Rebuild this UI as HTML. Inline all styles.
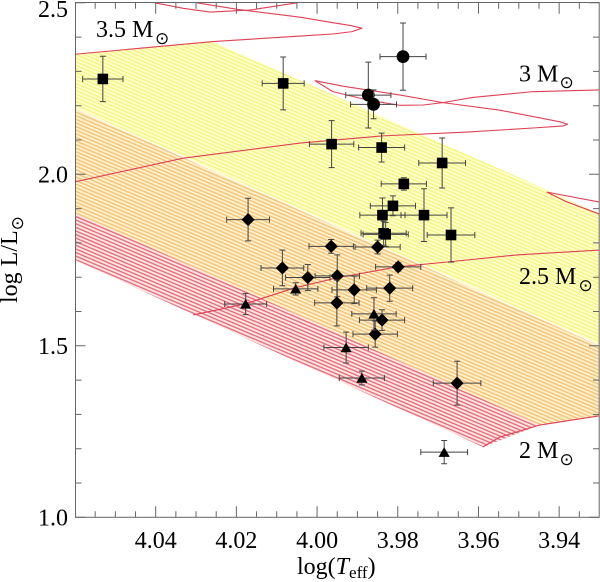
<!DOCTYPE html>
<html><head><meta charset="utf-8"><style>
html,body{margin:0;padding:0;background:#fff;width:600px;height:582px;overflow:hidden}
svg{display:block}
text{font-family:"Liberation Serif",serif;fill:#000}
</style></head><body>
<svg id="chart" width="600" height="582" viewBox="0 0 600 582" xmlns="http://www.w3.org/2000/svg">
<defs id="defs">
<clipPath id="plot-clip"><rect x="75" y="2.8" width="524.5" height="514.5"/></clipPath>
</defs>
<g id="bands" clip-path="url(#plot-clip)"></g>
<g id="tracks" clip-path="url(#plot-clip)"></g>
<g id="axes"></g>
<g id="points"></g>
<g>
<text x="96" y="37" font-size="24">3.5 M<tspan x="155" y="44" font-size="17" font-family="DejaVu Sans">⊙</tspan></text>
<text x="519" y="81.5" font-size="24">3 M<tspan x="559.5" y="88" font-size="17" font-family="DejaVu Sans">⊙</tspan></text>
<text x="519" y="284" font-size="24">2.5 M<tspan x="578.5" y="291" font-size="17" font-family="DejaVu Sans">⊙</tspan></text>
<text x="519" y="458" font-size="24">2 M<tspan x="559.5" y="465" font-size="17" font-family="DejaVu Sans">⊙</tspan></text>
</g>
<text transform="translate(17,303) rotate(-90)" font-size="24">log L/L<tspan dy="6" font-size="17" font-family="DejaVu Sans">⊙</tspan></text>
<text x="297" y="574" font-size="24">log(<tspan font-style="italic">T</tspan><tspan font-size="17" dy="4">eff</tspan><tspan dy="-4">)</tspan></text>
</svg>
<script>
// Star measurements, one set of arrays per marker group
const squareT = [4.0531,4.0084,3.9964,3.9840,3.9690,3.9785,3.9812,3.9838,3.9735,3.9668,3.9835,3.9830];
const squareL = [2.278,2.265,2.088,2.078,2.033,1.972,1.908,1.881,1.881,1.823,1.828,1.825];
const squareErrT = [.0050,.0052,.0055,.0057,.0058,.0056,.0056,.0056,.0057,.0059,.0056,.0056];
const squareErrL = [.066,.077,.0685,.042,.073,.018,.029,.050,.077,.079,.035,.035];
const circleT = [3.9787,3.9873,3.9860];
const circleL = [2.343,2.231,2.204];
const circleErrT = [.0057,.0056,.0057];
const circleErrL = [.098,.096,.042];
const diamondT = [4.0171,4.0086,4.0023,3.9965,3.9850,3.9950,3.9951,3.9908,3.9799,3.9820,3.9839,3.9856,3.9653];
const diamondL = [1.868,1.727,1.699,1.790,1.788,1.704,1.625,1.663,1.730,1.668,1.575,1.534,1.391];
const diamondErrT = [.0053,.0053,.0055,.0055,.0056,.0055,.0055,.0055,.0056,.0057,.0056,.0055,.0059];
const diamondErrL = [.062,.052,.038,.020,.020,.061,.067,.040,.012,.038,.030,.038,.064];
const triangleT = [4.0177,4.0053,3.9859,3.9928,3.9889,3.9685];
const triangleL = [1.622,1.666,1.593,1.495,1.406,1.190];
const triangleErrT = [.0052,.0055,.0055,.0055,.0056,.0058];
const triangleErrL = [.031,.018,.047,.045,.020,.034];
// Evolution tracks
const track35aT = [4.06,4.0258,4.0042,3.9961,3.9913,3.9889,3.9918,3.9961,4.0042,4.0198,4.0298];
const track35aL = [2.350,2.387,2.403,2.409,2.416,2.426,2.434,2.442,2.458,2.481,2.5];
const track35bT = [4.0402,4.0332,4.0265,4.0198,4.0166,4.0050];
const track35bL = [2.5,2.484,2.473,2.477,2.479,2.5];
const track3T = [4.06,4.0332,4.0042,3.9837,3.9628,3.9465,3.9390,3.9379,3.9398,3.9547,3.9688,3.9794,3.9936,4.0005,3.9961,3.9876,3.9794,3.9737,3.9688,3.9614,3.9465,3.93];
const track3L = [1.978,2.047,2.091,2.112,2.123,2.135,2.141,2.146,2.153,2.187,2.209,2.231,2.257,2.273,2.241,2.217,2.201,2.202,2.209,2.224,2.241,2.246];
const track25aT = [4.0307,4.0179,4.0055,3.9951,3.9802,3.9671,3.9505,3.93];
const track25aL = [1.590,1.622,1.669,1.698,1.730,1.745,1.765,1.779];
const track25bT = [3.93,3.9430,3.9386,3.93];
const track25bL = [1.919,1.948,1.922,1.884];
const track2T = [3.9589,3.9547,3.9448,3.93];
const track2L = [1.205,1.234,1.269,1.296];
// Shaded band outlines
const bandYellowT = [4.06,4.0258,3.93,3.93,4.06];
const bandYellowL = [2.350,2.387,1.886,1.502,2.193];
const bandOrangeT = [4.06,3.93,3.93,3.9448,4.06];
const bandOrangeL = [2.193,1.502,1.296,1.269,1.887];
const bandRedT = [4.06,3.9448,3.9589,4.06];
const bandRedL = [1.887,1.269,1.205,1.750];
// Axis ticks
const xMajorTicks = [4.04,4.02,4.00,3.98,3.96,3.94];
const xTickLabels = ["4.04","4.02","4.00","3.98","3.96","3.94"];
const xMinorTicks = [4.055,4.05,4.045,4.035,4.03,4.025,4.015,4.01,4.005,3.995,3.99,3.985,3.975,3.97,3.965,3.955,3.95,3.945,3.935];
const yMajorTicks = [1.0,1.5,2.0,2.5];
const yTickLabels = ["1.0","1.5","2.0","2.5"];
const yMinorTicks = [1.1,1.2,1.3,1.4,1.6,1.7,1.8,1.9,2.1,2.2,2.3,2.4];

const NS = 'http://www.w3.org/2000/svg';
const sx = t => 75 + (4.06 - t) / 0.13 * 524.5;
const sy = l => 517.3 - (l - 1) / 1.5 * 514.5;
function make(tag, parent, attrs, text) {
  const el = document.createElementNS(NS, tag);
  for (const k in attrs) el.setAttribute(k, attrs[k]);
  if (text !== undefined) el.textContent = text;
  parent.appendChild(el);
  return el;
}
function pts(T, L) { return T.map((t, i) => sx(t).toFixed(2) + ',' + sy(L[i]).toFixed(2)).join(' '); }

const defs = document.getElementById('defs');
const bands = document.getElementById('bands');
const tracks = document.getElementById('tracks');
const axes = document.getElementById('axes');
const points = document.getElementById('points');

function hatchPath() {
  const slope = 0.424, left = 75, right = 599.5, top = 3, bottom = 517;
  let d = '';
  for (let c = top - (right - left) * slope; c < bottom; c += 3.6) {
    const x0 = Math.max(left, left + (top - c) / slope);
    const x1 = Math.min(right, left + (bottom - c) / slope);
    d += 'M' + x0.toFixed(1) + ' ' + (c + (x0 - left) * slope).toFixed(1) +
         'L' + x1.toFixed(1) + ' ' + (c + (x1 - left) * slope).toFixed(1);
  }
  return d;
}
function drawBand(T, L, id, bg, line, name) {
  const cp = make('clipPath', defs, {id: id});
  make('polygon', cp, {points: pts(T, L)});
  const g = make('g', bands, {'clip-path': 'url(#' + id + ')'});
  
  
  make('rect', g, {x: 75, y: 3, width: 524.5, height: 514, fill: bg});
  make('path', g, {d: hatchPath(), stroke: line, 'stroke-width': '1.4', fill: 'none'});
}
drawBand(bandYellowT, bandYellowL, 'clip-yellow', '#ffffc8', '#f4f488', 'band-yellow');
drawBand(bandRedT, bandRedL, 'clip-red', '#ffe4e4', '#e4707c', 'band-red');
drawBand(bandOrangeT, bandOrangeL, 'clip-orange', '#fff0c8', '#f2c27c', 'band-orange');

let el;
el = make('line', bands, {x1: sx(bandOrangeT[0]), y1: sy(bandOrangeL[0]), x2: sx(bandOrangeT[1]), y2: sy(bandOrangeL[1]), stroke: '#fff', 'stroke-width': '1'});



function drawTrack(T, L, name) {
  const p = make('polyline', tracks, {points: pts(T, L), fill: 'none', stroke: '#e04055', 'stroke-width': '1.1', 'stroke-linejoin': 'round'});
  
  
}
drawTrack(track35aT, track35aL, 'track-3-5-msun');
drawTrack(track35bT, track35bL, 'track-3-5-msun-loop');
drawTrack(track3T, track3L, 'track-3-msun');
drawTrack(track25aT, track25aL, 'track-2-5-msun');
drawTrack(track25bT, track25bL, 'track-2-5-msun-loop');
drawTrack(track2T, track2L, 'track-2-msun');

// Axis frame
el = make('rect', axes, {x: 75.5, y: 2.5, width: 523.7, height: 514.8, fill: 'none', stroke: '#666', 'stroke-width': '1'});



function xTick(v, len, name) {
  const x = sx(v);
  const d = 'M' + x + ' 517.3v' + (-len) + 'M' + x + ' 2.8v' + len;
  const t = make('path', axes, {d: d, stroke: '#666', 'stroke-width': '1', fill: 'none'});
  
  
}
function yTick(v, len, name) {
  const y = sy(v);
  const d = 'M75.5 ' + y + 'h' + len + 'M599 ' + y + 'h' + (-len);
  const t = make('path', axes, {d: d, stroke: '#666', 'stroke-width': '1', fill: 'none'});
  
  
}
xMinorTicks.forEach(v => xTick(v, 6, 'x-minor-tick'));
yMinorTicks.forEach(v => yTick(v, 6, 'y-minor-tick'));
xMajorTicks.forEach((v, i) => {
  xTick(v, 11, 'x-major-tick');
  const t = make('text', axes, {x: sx(v), y: 548, 'text-anchor': 'middle', 'font-size': 24}, xTickLabels[i]);
  
  
});
yMajorTicks.forEach((v, i) => {
  yTick(v, 10, 'y-major-tick');
  const t = make('text', axes, {x: 68, y: Math.max(sy(v) + 8, 17), 'text-anchor': 'end', 'font-size': 24}, yTickLabels[i]);
  
  
});

function errorBars(g, x, y, ex, ey) {
  const cap = 3;
  const d = 'M' + (x - ex) + ' ' + y + 'H' + (x + ex) +
    'M' + (x - ex) + ' ' + (y - cap) + 'v' + (2 * cap) +
    'M' + (x + ex) + ' ' + (y - cap) + 'v' + (2 * cap) +
    'M' + x + ' ' + (y - ey) + 'V' + (y + ey) +
    'M' + (x - cap) + ' ' + (y - ey) + 'h' + (2 * cap) +
    'M' + (x - cap) + ' ' + (y + ey) + 'h' + (2 * cap);
  make('path', g, {d: d, stroke: '#444', 'stroke-width': '1', fill: 'none'});
}
function drawMarker(g, kind, x, y) {
  if (kind === 'square') make('rect', g, {x: x - 5.3, y: y - 5.3, width: 10.6, height: 10.6, fill: '#000'});
  if (kind === 'circle') make('circle', g, {cx: x, cy: y, r: 6.4, fill: '#000'});
  if (kind === 'diamond') make('polygon', g, {points: [x - 6.6, y, x, y - 6.6, x + 6.6, y, x, y + 6.6].join(','), fill: '#000'});
  if (kind === 'triangle') make('polygon', g, {points: [x - 5.6, y + 4.7, x, y - 5, x + 5.6, y + 4.7].join(','), fill: '#000'});
}
function drawSeries(kind, T, L, eT, eL, name) {
  T.forEach((t, i) => {
    const g = make('g', points, {});
    
    
    const x = sx(t), y = sy(L[i]);
    errorBars(g, x, y, eT[i] / 0.13 * 524.5, eL[i] / 1.5 * 514.5);
    drawMarker(g, kind, x, y);
  });
}
drawSeries('square', squareT, squareL, squareErrT, squareErrL, 'star-square');
drawSeries('circle', circleT, circleL, circleErrT, circleErrL, 'star-circle');
drawSeries('diamond', diamondT, diamondL, diamondErrT, diamondErrL, 'star-diamond');
drawSeries('triangle', triangleT, triangleL, triangleErrT, triangleErrL, 'star-triangle');
</script>
</body></html>
